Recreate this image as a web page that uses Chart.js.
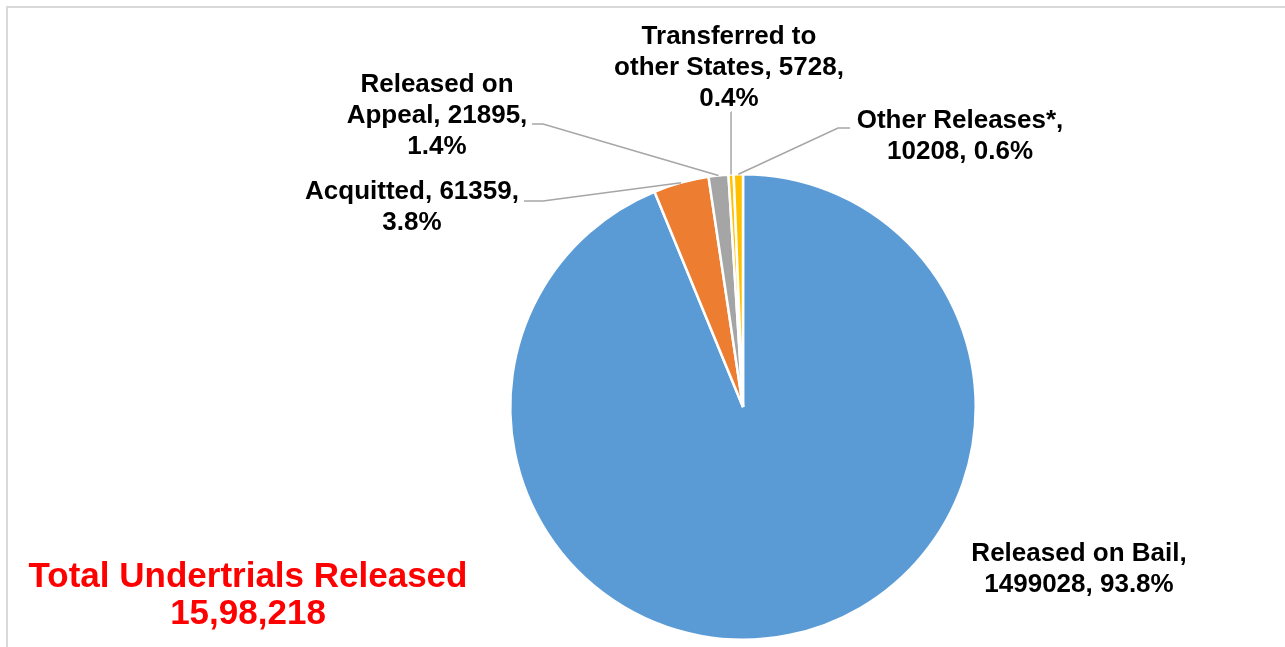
<!DOCTYPE html>
<html>
<head>
<meta charset="utf-8">
<script src="https://cdn.jsdelivr.net/npm/chart.js@4"></script>
<style>
  body { margin: 0; background: #fff; overflow: hidden; }
  #wrap { position: relative; width: 1285px; height: 647px; }
  #frame { position: absolute; left: 6px; top: 6px; width: 1300px; height: 700px; border: 2px solid #d9d9d9; }
</style>
</head>
<body>
<div id="wrap">
  <div id="frame"></div>
  <canvas id="myChart"></canvas>
</div>
<script>
// datos
const categories = ["Released on Bail", "Acquitted", "Released on Appeal", "Transferred to other States", "Other Releases*"];
const released = [1499028, 61359, 21895, 5728, 10208];
const percents = ["93.8%", "3.8%", "1.4%", "0.4%", "0.6%"];
const totalText = ["Total Undertrials Released", "15,98,218"];
const colors = ["#5B9BD5", "#ED7D31", "#A5A5A5", "#FFC000", "#FFC000"];

// texto de cada etiqueta (lineas)
const labelLines = [
  ["Released on Bail,", released[0] + ", " + percents[0]],
  ["Acquitted, " + released[1] + ",", percents[1]],
  ["Released on", "Appeal, " + released[2] + ",", percents[2]],
  ["Transferred to", "other States, " + released[3] + ",", percents[3]],
  ["Other Releases*,", released[4] + ", " + percents[4]],
];
// posicion de las etiquetas y lineas guia
const labelPos = [
  { x: 1079, y: 554, lead: null },
  { x: 412, y: 192, lead: [[524, 201], [543, 201]] },
  { x: 437, y: 85, lead: [[532, 124], [543, 124]] },
  { x: 729, y: 37, lead: [[731, 112], null] },
  { x: 960, y: 121, lead: [[850, 128], [838, 128]] },
];

const labelPlugin = {
  id: "pieLabels",
  afterDraw(chart) {
    const c = chart.ctx;
    const arcs = chart.getDatasetMeta(0).data;
    c.save();
    c.strokeStyle = "#A6A6A6";
    c.lineWidth = 1.5;
    arcs.forEach((arc, i) => {
      const p = labelPos[i];
      if (p.lead) {
        const mid = (arc.startAngle + arc.endAngle) / 2;
        const ax = arc.x + arc.outerRadius * Math.cos(mid);
        const ay = arc.y + arc.outerRadius * Math.sin(mid);
        c.beginPath();
        c.moveTo(p.lead[0][0], p.lead[0][1]);
        if (p.lead[1]) c.lineTo(p.lead[1][0], p.lead[1][1]);
        else c.lineTo(ax, p.lead[0][1]);
        c.lineTo(ax, ay);
        c.stroke();
      }
    });
    c.fillStyle = "#000";
    c.font = "bold 26px 'Liberation Sans', Arial, sans-serif";
    c.textAlign = "center";
    c.textBaseline = "middle";
    labelLines.forEach((lines, i) => {
      lines.forEach((t, j) => c.fillText(t, labelPos[i].x, labelPos[i].y + j * 31));
    });
    c.fillStyle = "#FF0000";
    c.font = "bold 35px 'Liberation Sans', Arial, sans-serif";
    totalText.forEach((t, j) => c.fillText(t, 248, 577 + j * 37));
    c.restore();
  },
};

const ctx = document.getElementById("myChart");

new Chart(ctx, {
  type: "pie",
  data: {
    labels: categories,
    datasets: [
      {
        data: released,
        backgroundColor: colors,
        borderColor: "#ffffff",
        borderWidth: 2.5,
      },
    ],
  },
  options: {
    responsive: true,
    maintainAspectRatio: false,
    animation: false,
    layout: { padding: { top: 173, bottom: 6, left: 509, right: 308 } },
    plugins: {
      legend: { display: false },
      tooltip: { enabled: false },
    },
  },
  plugins: [labelPlugin],
});
</script>
</body>
</html>
